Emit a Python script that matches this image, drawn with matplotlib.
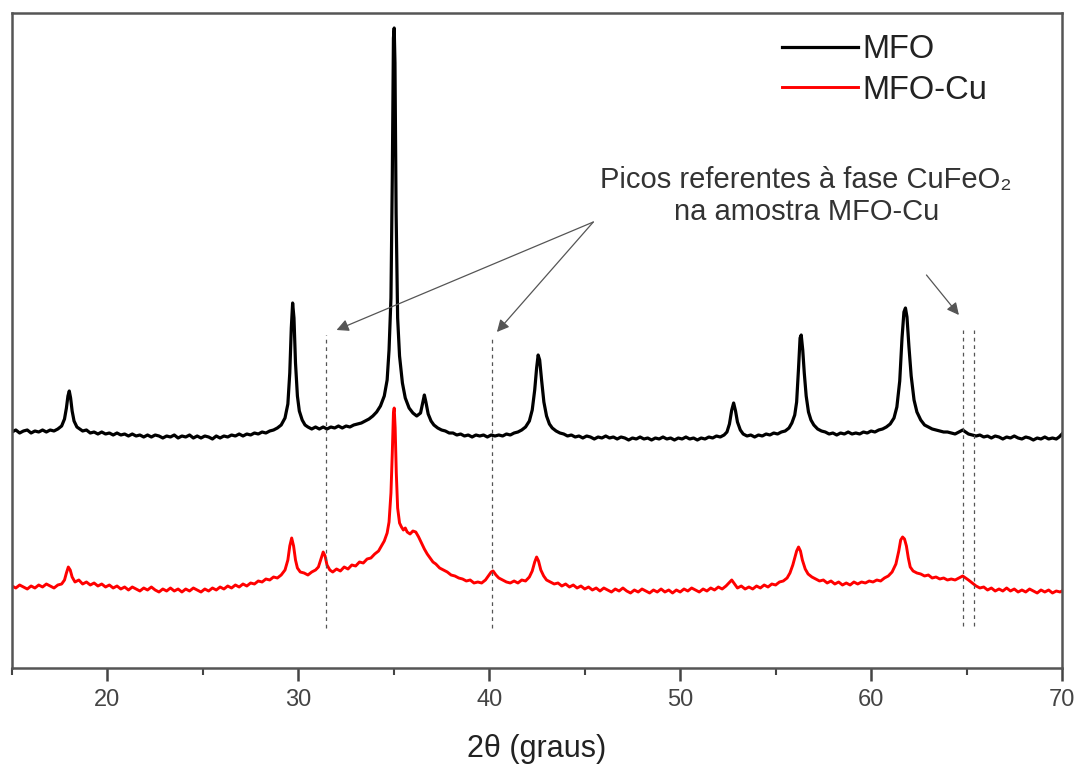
import matplotlib
matplotlib.use("Agg")
import matplotlib.pyplot as plt
from matplotlib.ticker import MultipleLocator

plt.rcParams['font.family'] = ['Liberation Sans', 'DejaVu Sans']

# ---------------- data (2theta in degrees, intensity in arbitrary units) -------------
mfo_x = [
    15.0, 15.2, 15.4, 15.6, 15.8, 16.0, 16.2, 16.4, 16.6, 16.8,
    17.0, 17.2, 17.4, 17.6, 17.75, 17.85, 17.93, 18.0, 18.07, 18.15,
    18.25, 18.4, 18.55, 18.7, 18.9, 19.1, 19.3, 19.5, 19.7, 19.9,
    20.1, 20.3, 20.5, 20.7, 20.9, 21.1, 21.3, 21.5, 21.7, 21.9,
    22.1, 22.3, 22.5, 22.7, 22.9, 23.1, 23.3, 23.5, 23.7, 23.9,
    24.1, 24.3, 24.5, 24.7, 24.9, 25.1, 25.3, 25.5, 25.7, 25.9,
    26.1, 26.3, 26.5, 26.7, 26.9, 27.1, 27.3, 27.5, 27.7, 27.9,
    28.1, 28.3, 28.5, 28.7, 28.9, 29.1, 29.3, 29.45, 29.55, 29.63,
    29.7, 29.77, 29.85, 29.95, 30.05, 30.2, 30.35, 30.5, 30.7, 30.9,
    31.1, 31.3, 31.5, 31.7, 31.9, 32.1, 32.3, 32.5, 32.7, 32.9,
    33.1, 33.3, 33.5, 33.7, 33.9, 34.1, 34.3, 34.5, 34.65, 34.75,
    34.85, 34.92, 34.98, 35.02, 35.06, 35.12, 35.2, 35.3, 35.45, 35.6,
    35.8, 36.0, 36.2, 36.4, 36.52, 36.6, 36.68, 36.8, 36.95, 37.1,
    37.3, 37.5, 37.7, 37.9, 38.1, 38.3, 38.5, 38.7, 38.9, 39.1,
    39.3, 39.5, 39.7, 39.9, 40.1, 40.3, 40.5, 40.7, 40.9, 41.1,
    41.3, 41.5, 41.7, 41.9, 42.1, 42.25, 42.38, 42.48, 42.56, 42.64,
    42.74, 42.86, 43.0, 43.15, 43.3, 43.5, 43.7, 43.9, 44.1, 44.3,
    44.5, 44.7, 44.9, 45.1, 45.3, 45.5, 45.7, 45.9, 46.1, 46.3,
    46.5, 46.7, 46.9, 47.1, 47.3, 47.5, 47.7, 47.9, 48.1, 48.3,
    48.5, 48.7, 48.9, 49.1, 49.3, 49.5, 49.7, 49.9, 50.1, 50.3,
    50.5, 50.7, 50.9, 51.1, 51.3, 51.5, 51.7, 51.9, 52.1, 52.3,
    52.45, 52.58, 52.7, 52.8, 52.9, 53.0, 53.15, 53.3, 53.5, 53.7,
    53.9, 54.1, 54.3, 54.5, 54.7, 54.9, 55.1, 55.3, 55.5, 55.7,
    55.85, 56.0, 56.1, 56.2, 56.28, 56.34, 56.42, 56.5, 56.6, 56.72,
    56.85, 57.0, 57.2, 57.4, 57.6, 57.8, 58.0, 58.2, 58.4, 58.6,
    58.8, 59.0, 59.2, 59.4, 59.6, 59.8, 60.0, 60.2, 60.4, 60.6,
    60.8, 61.0, 61.2, 61.35, 61.5, 61.62, 61.72, 61.8, 61.88, 61.98,
    62.1, 62.25, 62.4, 62.6, 62.8, 63.0, 63.2, 63.4, 63.6, 63.8,
    64.0, 64.2, 64.4, 64.6, 64.8, 64.95, 65.1, 65.3, 65.5, 65.7,
    65.9, 66.1, 66.3, 66.5, 66.7, 66.9, 67.1, 67.3, 67.5, 67.7,
    67.9, 68.1, 68.3, 68.5, 68.7, 68.9, 69.1, 69.3, 69.5, 69.7,
    69.85, 70.0,
]
mfo_y = [
    236, 238, 235, 237, 238, 235, 237, 236, 238, 236,
    238, 237, 239, 242, 249, 260, 272, 277, 270, 257,
    247, 241, 239, 237, 238, 235, 236, 234, 236, 234,
    235, 233, 235, 233, 234, 232, 234, 232, 233, 231,
    233, 231, 233, 232, 230, 232, 231, 233, 230, 232,
    231, 233, 230, 232, 230, 232, 231, 229, 232, 230,
    232, 231, 233, 232, 234, 232, 234, 233, 235, 234,
    236, 235, 237, 238, 240, 243, 250, 264, 295, 340,
    365, 350, 305, 272, 257, 248, 243, 241, 239, 241,
    239, 241, 239, 241, 240, 242, 240, 242, 241, 243,
    244, 245, 247, 249, 252, 256, 262, 272, 288, 318,
    370, 490, 630, 640, 605, 455, 350, 312, 285, 270,
    260, 255, 252, 255, 266, 273, 266, 254, 247, 243,
    240, 238, 237, 235, 235, 233, 234, 232, 233, 231,
    233, 232, 233, 231, 233, 232, 233, 232, 234, 233,
    235, 236, 238, 241, 247, 258, 278, 300, 313, 308,
    288, 266, 252, 244, 240, 237, 235, 234, 232, 233,
    231, 232, 230, 232, 231, 229, 231, 230, 232, 230,
    231, 229, 231, 230, 228, 230, 229, 231, 229, 230,
    228, 230, 229, 231, 229, 230, 228, 230, 229, 231,
    229, 230, 228, 230, 229, 231, 230, 232, 231, 233,
    236, 244, 258, 265, 257, 246, 238, 234, 232, 233,
    231, 233, 232, 234, 233, 235, 234, 236, 237, 240,
    245, 253, 266, 300, 330, 333, 318, 295, 272, 256,
    248, 243, 239, 237, 236, 234, 235, 233, 235, 234,
    236, 234, 235, 234, 236, 235, 237, 236, 238, 239,
    241, 244, 250, 261, 287, 330, 356, 360, 351, 322,
    292, 268, 256, 248, 243, 241, 239, 238, 237, 236,
    236, 235, 234, 236, 238, 236, 234, 233, 232, 233,
    231, 232, 230, 232, 231, 229, 231, 230, 232, 230,
    229, 231, 230, 228, 230, 229, 231, 229, 230, 229,
    231, 234,
]

mfocu_x = [
    15.0, 15.2, 15.4, 15.6, 15.8, 16.0, 16.2, 16.4, 16.6, 16.8,
    17.0, 17.2, 17.4, 17.6, 17.75, 17.85, 17.95, 18.05, 18.15, 18.3,
    18.5, 18.7, 18.9, 19.1, 19.3, 19.5, 19.7, 19.9, 20.1, 20.3,
    20.5, 20.7, 20.9, 21.1, 21.3, 21.5, 21.7, 21.9, 22.1, 22.3,
    22.5, 22.7, 22.9, 23.1, 23.3, 23.5, 23.7, 23.9, 24.1, 24.3,
    24.5, 24.7, 24.9, 25.1, 25.3, 25.5, 25.7, 25.9, 26.1, 26.3,
    26.5, 26.7, 26.9, 27.1, 27.3, 27.5, 27.7, 27.9, 28.1, 28.3,
    28.5, 28.7, 28.9, 29.1, 29.3, 29.45, 29.55, 29.65, 29.75, 29.85,
    29.95, 30.1, 30.3, 30.5, 30.7, 30.9, 31.05, 31.2, 31.3, 31.4,
    31.5, 31.65, 31.8, 32.0, 32.2, 32.4, 32.6, 32.8, 33.0, 33.2,
    33.4, 33.6, 33.8, 34.0, 34.2, 34.35, 34.5, 34.65, 34.75, 34.85,
    34.92, 34.98, 35.02, 35.07, 35.13, 35.2, 35.3, 35.4, 35.5, 35.6,
    35.7, 35.85, 36.0, 36.15, 36.3, 36.45, 36.6, 36.75, 36.9, 37.05,
    37.2, 37.4, 37.6, 37.8, 38.0, 38.2, 38.4, 38.6, 38.8, 39.0,
    39.2, 39.4, 39.6, 39.8, 39.95, 40.1, 40.2, 40.35, 40.5, 40.7,
    40.9, 41.1, 41.3, 41.5, 41.7, 41.9, 42.1, 42.25, 42.38, 42.48,
    42.58, 42.7, 42.85, 43.0, 43.2, 43.4, 43.6, 43.8, 44.0, 44.2,
    44.4, 44.6, 44.8, 45.0, 45.2, 45.4, 45.6, 45.8, 46.0, 46.2,
    46.4, 46.6, 46.8, 47.0, 47.2, 47.4, 47.6, 47.8, 48.0, 48.2,
    48.4, 48.6, 48.8, 49.0, 49.2, 49.4, 49.6, 49.8, 50.0, 50.2,
    50.4, 50.6, 50.8, 51.0, 51.2, 51.4, 51.6, 51.8, 52.0, 52.2,
    52.4, 52.55, 52.7, 52.85, 53.0, 53.2, 53.4, 53.6, 53.8, 54.0,
    54.2, 54.4, 54.6, 54.8, 55.0, 55.2, 55.4, 55.6, 55.75, 55.9,
    56.0, 56.1, 56.2, 56.3, 56.4, 56.55, 56.7, 56.9, 57.1, 57.3,
    57.5, 57.7, 57.9, 58.1, 58.3, 58.5, 58.7, 58.9, 59.1, 59.3,
    59.5, 59.7, 59.9, 60.1, 60.3, 60.5, 60.7, 60.9, 61.1, 61.3,
    61.45, 61.55, 61.65, 61.75, 61.85, 61.95, 62.05, 62.2, 62.4, 62.6,
    62.8, 63.0, 63.2, 63.4, 63.6, 63.8, 64.0, 64.2, 64.4, 64.6,
    64.8, 64.95, 65.1, 65.3, 65.5, 65.7, 65.9, 66.1, 66.3, 66.5,
    66.7, 66.9, 67.1, 67.3, 67.5, 67.7, 67.9, 68.1, 68.3, 68.5,
    68.7, 68.9, 69.1, 69.3, 69.5, 69.7, 69.9, 70.0,
]
mfocu_y = [
    82, 80, 83, 81, 79, 82, 80, 83, 81, 84,
    82, 80, 83, 84, 88, 95, 101, 98, 91, 86,
    88, 84, 86, 83, 85, 82, 84, 81, 83, 80,
    82, 79, 81, 78, 81, 79, 77, 80, 78, 81,
    78, 76, 79, 77, 80, 77, 79, 76, 79, 77,
    80, 78, 76, 79, 77, 80, 78, 81, 79, 82,
    80, 83, 81, 84, 82, 85, 84, 87, 86, 89,
    88, 91, 90, 93, 98, 108, 122, 130, 122, 108,
    100, 96, 95, 93, 96, 98, 101, 110, 116, 112,
    103, 98, 96, 99, 97, 101, 99, 103, 102, 106,
    105, 109, 110, 114, 117, 122, 127, 135, 146, 175,
    215, 255, 260, 240, 195, 160, 145, 141, 138, 140,
    136, 134, 137, 136, 131, 125, 119, 114, 110, 106,
    104, 100, 98, 96, 93, 92, 90, 89, 87, 88,
    85, 86, 85, 88, 92, 96, 97, 93, 90, 88,
    86, 85, 87, 85, 88, 87, 91, 97, 106, 111,
    107, 98, 92, 88, 86, 84, 85, 82, 84, 81,
    83, 80, 82, 79, 81, 78, 80, 77, 80, 78,
    76, 79, 77, 80, 77, 75, 78, 76, 79, 77,
    75, 78, 76, 79, 76, 78, 75, 78, 76, 79,
    77, 80, 78, 76, 79, 77, 80, 78, 81, 79,
    82, 85, 88, 84, 80, 82, 79, 81, 79, 82,
    80, 83, 81, 84, 83, 86, 87, 90, 95, 103,
    110, 117, 121, 117, 108, 99, 94, 91, 89, 87,
    88, 85, 87, 84, 86, 83, 85, 83, 86, 84,
    86, 85, 87, 86, 88, 87, 90, 92, 96, 104,
    117, 128, 131, 129, 122, 110, 101, 97, 95, 94,
    92, 93, 90, 91, 89, 90, 88, 89, 88, 90,
    92, 90, 88, 85, 82, 80, 81, 78, 80, 77,
    79, 77, 80, 77, 79, 76, 78, 76, 79, 77,
    75, 78, 76, 78, 75, 77, 76, 77,
]

series_labels = ["MFO", "MFO-Cu"]
xtick_values = [20, 30, 40, 50, 60, 70]
x_label = "2θ (graus)"

# CuFeO2 reference positions (dashed markers) and their vertical extent
cufeo2_positions = [31.45, 40.15, 64.8, 65.4]
cufeo2_ymin = [40, 40, 42, 42]
cufeo2_ymax = [333, 331, 338, 338]

annotation_text = "Picos referentes à fase CuFeO₂\nna amostra MFO-Cu"
annotation_xy = (56.6, 472)
arrow_tail = [(45.45, 446), (45.45, 446), (62.9, 393)]
arrow_head = [(32.0, 338), (40.4, 336), (64.6, 353)]

# ---------------- figure -------------
fig = plt.figure(figsize=(10.84, 7.65), dpi=100)
ax = fig.add_axes([12 / 1084, 1 - 668 / 765, 1050 / 1084, 655 / 765])

ax.plot(mfo_x, mfo_y, color="black", lw=2.3, label=series_labels[0])
ax.plot(mfocu_x, mfocu_y, color="#ff0000", lw=2.1, label=series_labels[1])

ax.vlines(cufeo2_positions, cufeo2_ymin, cufeo2_ymax, colors="#555555",
          linestyles=(0, (3, 3)), lw=0.9)

for (tx, ty), (hx, hy) in zip(arrow_tail, arrow_head):
    ax.annotate("", xy=(hx, hy), xytext=(tx, ty),
                arrowprops=dict(arrowstyle="-|>", color="#555555", lw=0.9,
                                mutation_scale=18, shrinkA=0, shrinkB=0))

ax.text(annotation_xy[0], annotation_xy[1], annotation_text, ha="center",
        va="center", fontsize=21, color="#333333", linespacing=1.15,
        family=['Liberation Sans', 'DejaVu Sans'])

ax.set_xlim(15, 70)
ax.set_ylim(0, 655)
ax.set_xticks(xtick_values)
ax.xaxis.set_minor_locator(MultipleLocator(5))
ax.set_yticks([])

for s in ax.spines.values():
    s.set_color("#555555")
    s.set_linewidth(1.8)

ax.tick_params(axis="x", which="major", direction="out", length=9, width=1.8,
               color="#444444", labelsize=17, labelcolor="#444444", pad=6)
ax.tick_params(axis="x", which="minor", direction="out", length=5, width=1.5,
               color="#444444")

ax.set_xlabel(x_label, fontsize=22, color="#222222", labelpad=17)

leg = ax.legend(loc="upper left", bbox_to_anchor=(0.733, 0.968), frameon=False,
                fontsize=23.5, handlelength=2.35, handletextpad=0.12,
                borderpad=0, borderaxespad=0, labelspacing=0.3)
for t in leg.get_texts():
    t.set_color("#222222")

fig.savefig("out.png", dpi=100)
